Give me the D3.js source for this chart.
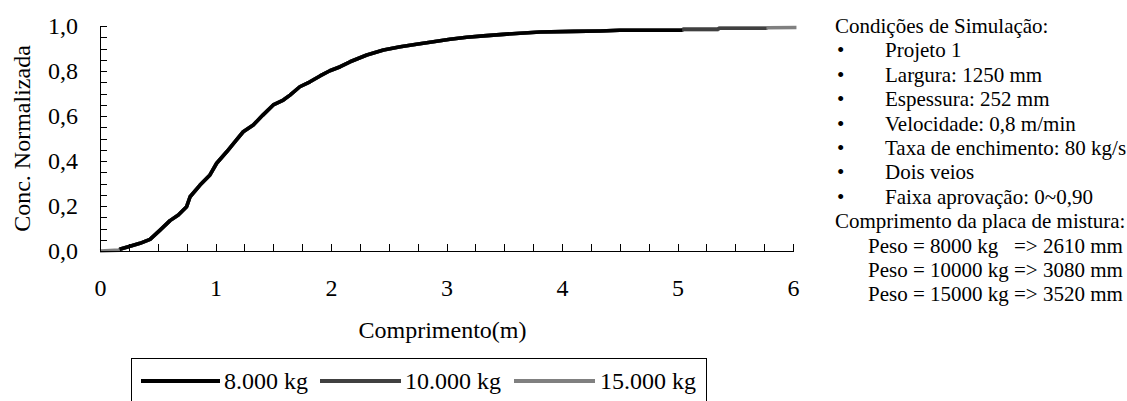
<!DOCTYPE html>
<html>
<head>
<meta charset="utf-8">
<script src="https://cdn.jsdelivr.net/npm/d3@7"></script>
<style>
  html, body { margin: 0; padding: 0; background: #fff; }
  svg { display: block; }
  text { font-family: "Liberation Serif", "Times New Roman", serif; fill: #000; }
</style>
</head>
<body>
<svg id="chart" width="1127" height="401"></svg>
<script>
// ---- data ----
const bodyX = [0.17,0.245,0.346,0.433,0.52,0.606,0.678,0.75,0.78,0.866,0.952,1.01,1.097,1.18,1.24,1.327,1.41,1.5,1.587,1.645,1.73,1.818,1.905,1.99,2.08,2.165,2.31,2.454,2.6,2.74,2.886,3.03,3.175,3.32,3.52,3.81,4.1,4.33,4.5];
const bodyY = [0.008,0.019,0.034,0.052,0.093,0.135,0.16,0.197,0.241,0.293,0.338,0.39,0.441,0.493,0.53,0.56,0.604,0.649,0.671,0.693,0.73,0.752,0.778,0.801,0.819,0.841,0.871,0.893,0.908,0.919,0.93,0.941,0.95,0.956,0.964,0.973,0.976,0.978,0.981];

const head15X = [0, 0.17];
const head15Y = [0, 0.004];

const tail8X  = [5.04];
const tail8Y  = [0.981];
const tail10X = [5.04, 5.05, 5.35, 5.36, 5.77];
const tail10Y = [0.981, 0.986, 0.986, 0.990, 0.990];
const tail15X = [5.04, 5.05, 5.35, 5.36, 5.77, 5.78, 6.03];
const tail15Y = [0.981, 0.983, 0.984, 0.990, 0.990, 0.992, 0.993];

const seriesNames  = ["8.000 kg", "10.000 kg", "15.000 kg"];
const seriesColors = ["#000000", "#404040", "#808080"];

const xTickValues = d3.range(0, 25).map(i => i * 0.25);
const yTickValues = d3.range(0, 21).map(i => i / 20);

const infoLines = [
  {t: "Condições de Simulação:", kind: "head"},
  {t: "Projeto 1", kind: "bullet"},
  {t: "Largura: 1250 mm", kind: "bullet"},
  {t: "Espessura: 252 mm", kind: "bullet"},
  {t: "Velocidade: 0,8 m/min", kind: "bullet"},
  {t: "Taxa de enchimento: 80 kg/s", kind: "bullet"},
  {t: "Dois veios", kind: "bullet"},
  {t: "Faixa aprovação: 0~0,90", kind: "bullet"},
  {t: "Comprimento da placa de mistura:", kind: "head"},
  {t: "Peso = 8000 kg   => 2610 mm", kind: "sub"},
  {t: "Peso = 10000 kg => 3080 mm", kind: "sub"},
  {t: "Peso = 15000 kg => 3520 mm", kind: "sub"}
];

// ---- build series ----
const zip = (xs, ys) => xs.map((x, i) => ({x, y: ys[i]}));
const s8  = zip(bodyX.concat(tail8X),  bodyY.concat(tail8Y));
const s10 = zip(bodyX.concat(tail10X), bodyY.concat(tail10Y));
const s15 = zip(head15X.concat(bodyX, tail15X), head15Y.concat(bodyY, tail15Y));
const seriesData = [s8, s10, s15];

// ---- layout ----
const svg = d3.select("#chart");
const L = 100, R = 793, T = 26, B = 251;
const x = d3.scaleLinear().domain([0, 6]).range([L, R]);
const y = d3.scaleLinear().domain([0, 1]).range([B, T]);

svg.append("rect").attr("width", 1127).attr("height", 401).attr("fill", "#fff");

// curves (draw 15000 first, 8000 on top)
const line = d3.line().x(d => x(d.x)).y(d => y(d.y)).curve(d3.curveLinear);
[2, 1, 0].forEach(i => {
  svg.append("path")
    .datum(seriesData[i])
    .attr("fill", "none")
    .attr("stroke", seriesColors[i])
    .attr("stroke-width", 3.6)
    .attr("stroke-linejoin", "round")
    .attr("d", line);
});

// axes
const fmtY = d => {
  const k = Math.round(d * 20);
  return k % 4 === 0 ? d3.format(".1f")(d).replace(".", ",") : "";
};
const fmtX = d => (Math.abs(d - Math.round(d)) < 1e-9 ? String(Math.round(d)) : "");

const gx = svg.append("g").attr("transform", `translate(0,${B})`)
  .call(d3.axisBottom(x).tickValues(xTickValues).tickSize(-7).tickSizeOuter(0).tickPadding(28).tickFormat(fmtX));
const gy = svg.append("g").attr("transform", `translate(${L},0)`)
  .call(d3.axisLeft(y).tickValues(yTickValues).tickSize(-7).tickSizeOuter(0).tickPadding(22).tickFormat(fmtY));

[gx, gy].forEach(g => {
  g.selectAll("path, line").attr("stroke", "#000").attr("stroke-width", 1).attr("shape-rendering", "crispEdges");
  g.selectAll("text").attr("font-family", "Liberation Serif, Times New Roman, serif").attr("font-size", 24).attr("fill", "#000");
});

// axis titles
svg.append("text")
  .attr("transform", `translate(30,${(T + B) / 2}) rotate(-90)`)
  .attr("text-anchor", "middle")
  .attr("font-size", 24)
  .text("Conc. Normalizada");

svg.append("text")
  .attr("x", (L + R) / 2 - 4).attr("y", 338)
  .attr("text-anchor", "middle")
  .attr("font-size", 24)
  .text("Comprimento(m)");

// legend
svg.append("rect")
  .attr("x", 131.5).attr("y", 358.5).attr("width", 575).attr("height", 60)
  .attr("fill", "none").attr("stroke", "#000").attr("stroke-width", 1);

const legendItems = [
  {x1: 141, x2: 220, tx: 224},
  {x1: 320, x2: 401, tx: 405},
  {x1: 514, x2: 595, tx: 600}
];
legendItems.forEach((p, i) => {
  svg.append("line").attr("x1", p.x1).attr("x2", p.x2).attr("y1", 381).attr("y2", 381)
    .attr("stroke", seriesColors[i]).attr("stroke-width", 3.8);
  svg.append("text").attr("x", p.tx).attr("y", 389).attr("font-size", 24).text(seriesNames[i]);
});

// info block
const info = svg.append("g");
infoLines.forEach((ln, i) => {
  const yy = 33 + i * 24.4;
  if (ln.kind === "bullet") {
    info.append("text").attr("x", 837).attr("y", yy).attr("font-size", 21).text("•");
    info.append("text").attr("x", 885).attr("y", yy).attr("font-size", 21).text(ln.t);
  } else if (ln.kind === "head") {
    info.append("text").attr("x", 835).attr("y", yy).attr("font-size", 21).text(ln.t);
  } else {
    info.append("text").attr("x", 868).attr("y", yy).attr("font-size", 21).style("white-space", "pre").text(ln.t);
  }
});
</script>
</body>
</html>
